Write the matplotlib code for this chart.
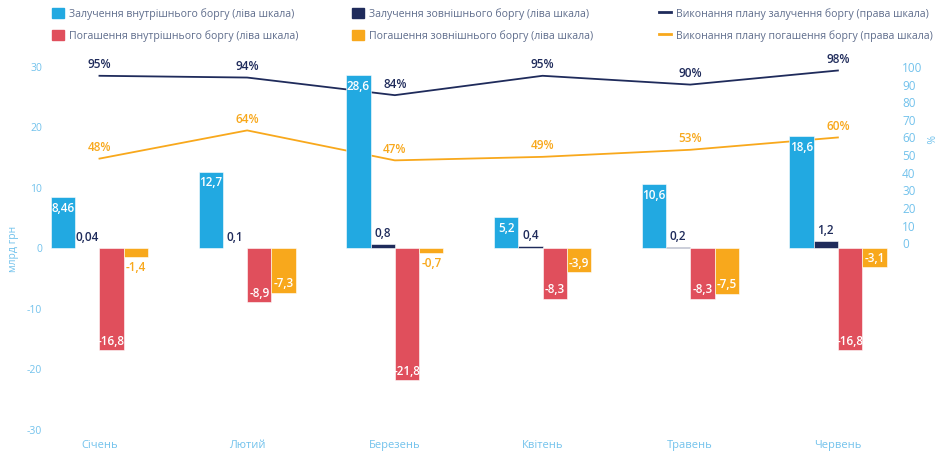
import matplotlib.pyplot as plt
import numpy as np
from matplotlib.patches import Patch
from matplotlib.lines import Line2D

plt.rcParams['font.family'] = ['Open Sans', 'DejaVu Sans']
plt.rcParams['axes.unicode_minus'] = False

# data
months = ['Січень', 'Лютий', 'Березень', 'Квітень', 'Травень', 'Червень']
internal_borrow = [8.46, 12.7, 28.6, 5.2, 10.6, 18.6]
external_borrow = [0.04, 0.1, 0.8, 0.4, 0.2, 1.2]
internal_repay = [-16.8, -8.9, -21.8, -8.3, -8.3, -16.8]
external_repay = [-1.4, -7.3, -0.7, -3.9, -7.5, -3.1]
plan_borrow = [95, 94, 84, 95, 90, 98]
plan_repay = [48, 64, 47, 49, 53, 60]

series_names = ['Залучення внутрішнього боргу (ліва шкала)',
                'Залучення зовнішнього боргу (ліва шкала)',
                'Погашення внутрішнього боргу (ліва шкала)',
                'Погашення зовнішнього боргу (ліва шкала)']
line_names = ['Виконання плану залучення боргу (права шкала)',
              'Виконання плану погашення боргу (права шкала)']

BLUE = '#22a9e1'
NAVY = '#1f2b5b'
RED = '#e04f5c'
ORANGE = '#f8a81c'
TICK = '#72c2ec'
LEG = '#5f6d8c'

def fmt(v):
    return ('%g' % v).replace('.', ',')

fig = plt.figure(figsize=(9.48, 4.51), dpi=100)
ax = fig.add_axes([0.0504, 0.0466, 0.888, 0.8049])
ax2 = ax.twinx()

x = np.arange(len(months))
w = 0.1645
series = [internal_borrow, external_borrow, internal_repay, external_repay]
colors = [BLUE, NAVY, RED, ORANGE]

for k, (vals, col) in enumerate(zip(series, colors)):
    pos = x + (k - 1.5) * w
    ax.bar(pos, vals, width=w, color=col, edgecolor='white', linewidth=0.4, zorder=2)
    for xi, v in zip(pos, vals):
        if k == 0:
            ax.annotate(fmt(v), (xi, v), xytext=(0, -8), textcoords='offset points',
                        ha='center', va='center', color='white', fontsize=8.5, fontweight='semibold', zorder=5)
        elif k == 1:
            ax.annotate(fmt(v), (xi, v), xytext=(0, 7.5), textcoords='offset points',
                        ha='center', va='center', color=NAVY, fontsize=8.5, fontweight='semibold', zorder=5)
        elif abs(v) < 2:
            ax.annotate(fmt(v), (xi, v), xytext=(0, -7.5), textcoords='offset points',
                        ha='center', va='center', color=col, fontsize=8.5, fontweight='semibold', zorder=5)
        else:
            ax.annotate(fmt(v), (xi, v), xytext=(0, 6.5), textcoords='offset points',
                        ha='center', va='center', color='white', fontsize=8.5, fontweight='semibold', zorder=5)

ax2.plot(x, plan_borrow, color=NAVY, lw=1.3, zorder=3)
ax2.plot(x, plan_repay, color=ORANGE, lw=1.3, zorder=3)
for vals, col in [(plan_borrow, NAVY), (plan_repay, ORANGE)]:
    for xi, v in zip(x, vals):
        ax2.annotate('%d%%' % v, (xi, v), xytext=(0, 8), textcoords='offset points',
                     ha='center', va='center', color=col, fontsize=8.5, fontweight='semibold')

ax.set_xlim(-0.35, 5.35)
ax.set_ylim(-30, 30)
ax.set_yticks(np.arange(-30, 31, 10))
ax2.set_ylim(-106, 100)
ax2.set_yticks(np.arange(0, 101, 10))
ax.set_xticks(x)
ax.set_xticklabels(months)

for a in (ax, ax2):
    for s in a.spines.values():
        s.set_visible(False)
    a.tick_params(length=0, colors=TICK, labelsize=7.5)
ax.tick_params(axis='x', pad=7, labelsize=8)
ax.tick_params(axis='y', pad=4)
ax2.tick_params(axis='y', pad=9, labelsize=8.5)
ax.set_zorder(ax2.get_zorder() + 1)
ax.patch.set_visible(False)

ax.set_ylabel('млрд грн', color=TICK, fontsize=7.5, labelpad=6)
ax2.set_ylabel('%', color=TICK, fontsize=7.5, rotation=-90, labelpad=8)
ax2.yaxis.set_label_coords(1.052, 0.80)

# legend: three columns placed separately
legend_cols = [
    ([Patch(color=BLUE), Patch(color=RED)], [series_names[0], series_names[2]], 52),
    ([Patch(color=NAVY), Patch(color=ORANGE)], [series_names[1], series_names[3]], 352),
    ([Line2D([], [], color=NAVY, lw=2), Line2D([], [], color=ORANGE, lw=2)], line_names, 659),
]
for hs, ls, px in legend_cols:
    leg = fig.legend(hs, ls, loc='upper left', bbox_to_anchor=(px / 948, 1 - 8 / 451),
                     frameon=False, fontsize=7.6, handlelength=1.1, handleheight=1.1,
                     handletextpad=0.55, labelspacing=0.95, borderaxespad=0, borderpad=0)
    for t in leg.get_texts():
        t.set_color(LEG)

fig.savefig('out.png', dpi=100)
